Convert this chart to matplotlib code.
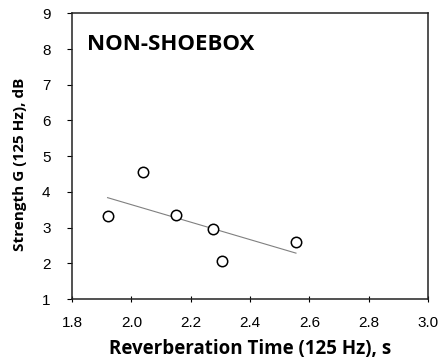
import numpy as np
import matplotlib as mpl
mpl.use('Agg')
import matplotlib.pyplot as plt

# values
rt_125 = [1.92, 2.04, 2.15, 2.275, 2.305, 2.555]
g_125 = [3.32, 4.55, 3.34, 2.95, 2.06, 2.59]
x_ticks = [1.8, 2.0, 2.2, 2.4, 2.6, 2.8, 3.0]
y_ticks = [1, 2, 3, 4, 5, 6, 7, 8, 9]

tick_font = 'Liberation Sans'
label_font = 'Open Sans'

fig = plt.figure(figsize=(4.4, 3.6), dpi=100)
ax = fig.add_axes([0.1636, 0.1694, 0.8091, 0.7936])

# linear trend through the points
slope, icpt = np.polyfit(rt_125, g_125, 1)
xs = np.array([min(rt_125), max(rt_125)])
ax.plot(xs, slope * xs + icpt, color='#808080', lw=0.8)

ax.plot(rt_125, g_125, 'o', ms=7.5, mfc='white', mec='black', mew=1.1)

ax.set_xlim(1.8, 3.0)
ax.set_ylim(1, 9)
ax.set_xticks(x_ticks)
ax.set_xticklabels(['%.1f' % t for t in x_ticks], fontfamily=tick_font, fontsize=11)
ax.set_yticks(y_ticks)
ax.set_yticklabels([str(t) for t in y_ticks], fontfamily=tick_font, fontsize=11)
ax.tick_params(axis='y', direction='out', length=3.5, width=0.8, pad=12)
ax.tick_params(axis='x', direction='inout', length=5, width=0.8, pad=10)
for s in ax.spines.values():
    s.set_linewidth(1.1)
    s.set_color('#222222')

ax.set_xlabel('Reverberation Time (125 Hz), s', fontfamily=label_font,
              fontweight='bold', fontsize=13.5, labelpad=6)
ax.set_ylabel('Strength G (125 Hz), dB', fontfamily=label_font,
              fontweight='bold', fontsize=11)
ax.yaxis.set_label_coords(-0.125, 0.47)

ax.text(0.042, 0.89, 'NON-SHOEBOX', transform=ax.transAxes, fontfamily=label_font,
        fontweight='bold', fontsize=16, va='center', ha='left')

plt.savefig('out.png', dpi=100)
